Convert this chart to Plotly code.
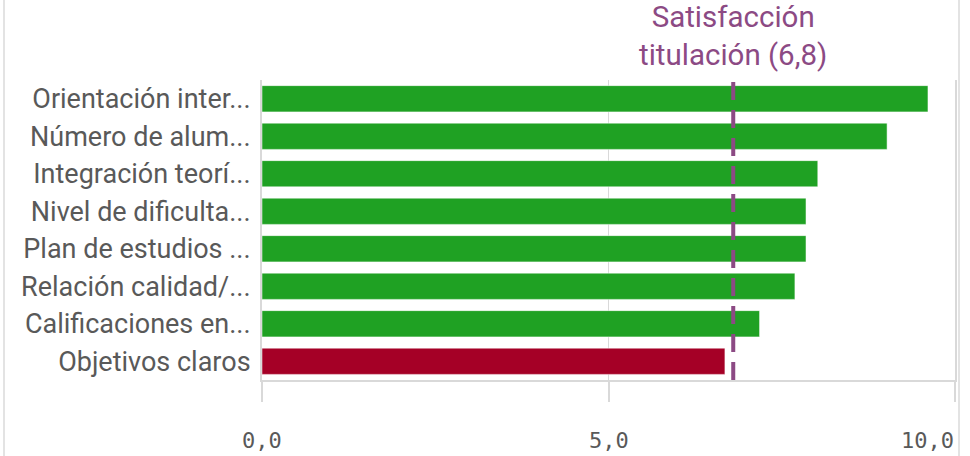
import plotly.graph_objects as go

categories = [
    "Orientación inter...",
    "Número de alum...",
    "Integración teorí...",
    "Nivel de dificulta...",
    "Plan de estudios ...",
    "Relación calidad/...",
    "Calificaciones en...",
    "Objetivos claros",
]
values = [9.61, 9.02, 8.02, 7.85, 7.85, 7.69, 7.18, 6.68]
reference_value = 6.8
reference_label = "Satisfacción<br>titulación (6,8)"
tick_vals = [0, 5, 10]
tick_labels = ["0,0", "5,0", "10,0"]

GREEN = "#1fa123"
RED = "#a50026"
PURPLE = "#8c4a84"
GRAY_TEXT = "#595959"
GRID = "#d9d9d9"

W, H = 970, 456
ML, MR, MT, MB = 262, 15, 80, 76
PW, PH = W - ML - MR, H - MT - MB

colors = [GREEN if v >= reference_value else RED for v in values]

fig = go.Figure()
fig.add_trace(go.Bar(
    x=values,
    y=categories,
    orientation="h",
    marker=dict(color=colors, line=dict(color="rgba(255,255,255,0.5)", width=1)),
    width=0.7,
    hoverinfo="skip",
))

fig.add_shape(type="line", xref="x", yref="paper",
              x0=reference_value, x1=reference_value, y0=0, y1=1,
              line=dict(color=PURPLE, width=4, dash="18px,10px"), layer="above")

fig.add_annotation(x=reference_value, xref="x", y=1.0, yref="paper",
                   yshift=6, text=reference_label, showarrow=False,
                   xanchor="center", yanchor="bottom",
                   font=dict(family="Roboto", size=29.5, color=PURPLE))

anchors = ["center", "center", "right"]
shifts = [0, 0, 1]
for tv, tl, an, sh in zip(tick_vals, tick_labels, anchors, shifts):
    fig.add_annotation(x=tv, xref="x", y=0, yref="paper", yshift=-60,
                       xshift=sh,
                       text=tl, showarrow=False, xanchor=an, yanchor="middle",
                       font=dict(family="DejaVu Sans Mono", size=22, color=GRAY_TEXT))

fig.update_layout(
    width=W, height=H,
    margin=dict(l=ML, r=MR, t=MT, b=MB, autoexpand=False),
    paper_bgcolor="white", plot_bgcolor="white",
    showlegend=False,
    bargap=0.3,
)
fig.update_xaxes(
    range=[0, 10], tickvals=tick_vals, showticklabels=False,
    ticks="outside", ticklen=20, tickcolor=GRID, tickwidth=2,
    showgrid=True, gridcolor=GRID, gridwidth=1,
    showline=True, linecolor=GRID, linewidth=2, mirror=False,
    zeroline=False, fixedrange=True,
)
fig.update_yaxes(
    autorange="reversed",
    tickfont=dict(family="Roboto", size=27, color=GRAY_TEXT),
    ticks="", ticklabelstandoff=4,
    showline=True, linecolor=GRID, linewidth=2, mirror=True,
    showgrid=False, fixedrange=True,
)

# outer container borders
for px in (4, 959):
    xp = (px - ML) / PW
    fig.add_shape(type="line", xref="paper", yref="paper", x0=xp, x1=xp,
                  y0=-MB / PH, y1=1 + MT / PH, line=dict(color="#e3e3e3", width=2))

fig.write_html("out.html", config={"displayModeBar": False},
               post_script="document.body.style.margin='0';")
